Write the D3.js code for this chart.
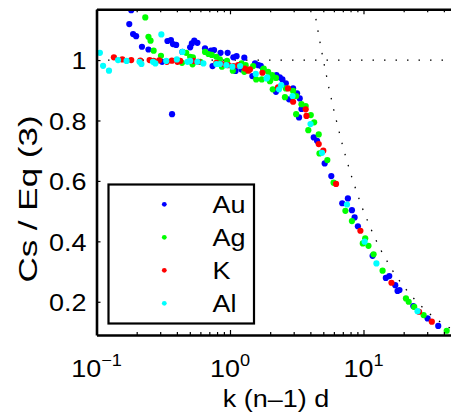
<!DOCTYPE html>
<html><head><meta charset="utf-8">
<script src="https://cdn.jsdelivr.net/npm/d3@7/dist/d3.min.js"></script>
<style>
html,body{margin:0;padding:0;background:#fff;}
svg{display:block;font-family:"Liberation Sans",Arial,Helvetica,sans-serif;}
</style></head>
<body><svg id="c" width="451" height="414"></svg>
<script>
// ---- data ----
const seriesNames = ["Au","Ag","K","Al"];
const seriesColors = ["#0000ff","#00ff00","#ff0000","#00ffff"];
const au = [[0.182,1.165],[0.176,1.119],[0.188,1.086],[0.198,1.079],[0.219,1.044],[0.245,1.035],[0.31,0.994],[0.34,1.063],[0.361,1.066],[0.374,1.053],[0.395,1.05],[0.368,0.821],[0.44,1.027],[0.503,1.042],[0.518,1.055],[0.54,1.064],[0.57,1.057],[0.65,1.039],[0.72,1.031],[0.74,0.98],[0.76,1.033],[0.85,1.024],[0.96,1.024],[1.06,1.009],[1.1,0.964],[1.12,1.013],[1.22,0.969],[1.28,1.008],[1.47,0.947],[1.54,0.989],[1.63,0.983],[1.70,0.981],[2.23,0.95],[2.21,0.895],[2.36,0.943],[2.47,0.936],[2.62,0.923],[2.77,0.87],[2.97,0.906],[3.18,0.89],[3.33,0.873],[3.43,0.838],[3.29,0.81],[4.24,0.744],[4.49,0.733],[5.12,0.658],[5.74,0.616],[6.93,0.526],[7.64,0.542],[8.19,0.503],[8.58,0.479],[9.08,0.45],[11.7,0.352],[14.7,0.279],[15.6,0.285],[17.3,0.255],[18.0,0.236],[18.6,0.239],[23.6,0.186],[30.2,0.145],[36.3,0.12]];
const ag = [[0.232,1.141],[0.245,1.077],[0.254,1.064],[0.268,1.031],[0.304,1.014],[0.437,0.991],[0.47,1.024],[0.503,1.011],[0.524,0.986],[0.527,1.009],[0.6,0.994],[0.65,1.027],[0.69,1.02],[0.73,1.017],[0.79,1.011],[0.84,1.002],[0.87,0.978],[0.95,0.997],[1.05,0.965],[1.22,0.989],[1.28,0.961],[1.31,0.983],[1.49,0.98],[1.57,0.936],[1.73,0.936],[1.77,0.969],[1.79,0.972],[1.93,0.961],[1.99,0.93],[2.01,0.934],[2.07,0.95],[2.09,0.903],[2.21,0.941],[2.58,0.877],[2.62,0.906],[2.97,0.898],[3.13,0.881],[3.13,0.821],[3.43,0.854],[3.69,0.848],[3.86,0.768],[4.03,0.818],[4.27,0.794],[4.62,0.754],[4.68,0.691],[5.36,0.669],[5.97,0.594],[7.32,0.501],[8.19,0.467],[9.88,0.393],[10.3,0.41],[10.9,0.385],[11.9,0.357],[13.9,0.303],[20.8,0.211],[21.8,0.2],[24.0,0.183],[28.2,0.156],[42.0,0.104]];
const k = [[0.135,1.009],[0.156,1.002],[0.182,1.0],[0.213,0.998],[0.25,1.0],[0.268,0.997],[0.295,0.999],[0.337,0.994],[0.367,0.998],[0.404,0.994],[0.424,0.997],[0.532,0.997],[0.58,0.994],[0.79,0.991],[0.87,0.987],[0.97,0.983],[1.06,0.98],[1.15,0.983],[1.29,0.972],[1.37,0.965],[1.41,0.969],[1.75,0.958],[2.29,0.91],[2.72,0.906],[2.97,0.862],[3.69,0.837],[3.74,0.815],[4.62,0.722],[5.0,0.7],[6.23,0.59],[9.48,0.435],[16.2,0.263],[26.1,0.167],[32.5,0.134]];
const al = [[0.106,1.024],[0.112,0.981],[0.124,0.965],[0.145,1.0],[0.168,0.997],[0.21,0.994],[0.217,0.987],[0.265,0.994],[0.276,0.989],[0.306,1.085],[0.333,0.997],[0.4,1.002],[0.44,1.027],[0.48,0.994],[0.503,0.997],[0.57,0.994],[0.632,0.989],[0.79,0.987],[0.84,0.987],[0.94,0.983],[1.04,0.978],[1.19,0.98],[1.56,0.954],[1.88,0.939],[1.9,0.943],[2.33,0.903],[2.42,0.917],[2.94,0.881],[4.01,0.788],[4.89,0.693],[7.52,0.522],[10.2,0.399],[12.5,0.327],[25.4,0.169]];
const refFlat = [[0.1,1],[50,1]];
const refCurve = [[4.4,1.136],[4.7,1.064],[5,1.0],[5.5,0.909],[6,0.833],[7,0.714],[8,0.625],[9,0.556],[10,0.5],[12,0.417],[14,0.357],[17,0.294],[20,0.25],[25,0.2],[30,0.167],[35,0.143],[40,0.125],[46,0.109],[50,0.1]];
const xMajor = [0.1,1,10];
const xExp = ["\u22121","0","1"];
const xMinor = [0.2,0.3,0.4,0.5,0.6,0.7,0.8,0.9,2,3,4,5,6,7,8,9,20,30,40];
const yTicks = [0.2,0.4,0.6,0.8,1];
const yTickLabels = ["0.2","0.4","0.6","0.8","1"];

// ---- layout ----
const svg = d3.select("#c");
const x = d3.scaleLog().domain([0.1,50]).range([96.5,456.8]);
const y = d3.scaleLinear().domain([0.09,1.168]).range([335,9.3]);
const FS = 24.5, SX = 1.1;

svg.append("defs").append("clipPath").attr("id","clip")
  .append("rect").attr("x",x(0.1)).attr("y",y(1.168)).attr("width",x(50)-x(0.1)).attr("height",y(0.09)-y(1.168));

const line = d3.line().x(d=>x(d[0])).y(d=>y(d[1]));
const pg = svg.append("g").attr("clip-path","url(#clip)");
[refFlat, refCurve].forEach(r=>{
  pg.append("path").attr("d",line(r)).attr("fill","none").attr("stroke","#000")
    .attr("stroke-width",1.3).attr("stroke-dasharray","1.5,10");
});
const all = [au,ag,k,al];
all.forEach((s,i)=>{
  pg.append("g").selectAll("circle").data(s).join("circle")
    .attr("cx",d=>x(d[0])).attr("cy",d=>y(d[1])).attr("r",3.1)
    .attr("fill",seriesColors[i]);
});

// axes
function styleAxis(g, w){
  g.select(".domain").attr("stroke","#000").attr("stroke-width",w);
  g.selectAll(".tick line").attr("stroke","#000").attr("stroke-width",1.2);
}
const gb = svg.append("g").attr("transform",`translate(0,${y(0.09)})`)
  .call(d3.axisBottom(x).tickValues(xMajor).tickSizeInner(-5).tickSizeOuter(0).tickFormat(""));
styleAxis(gb,2.6);
const gbm = svg.append("g").attr("transform",`translate(0,${y(0.09)})`)
  .call(d3.axisBottom(x).tickValues(xMinor).tickSizeInner(-3).tickSizeOuter(0).tickFormat(""));
gbm.select(".domain").remove(); gbm.selectAll(".tick line").attr("stroke","#000").attr("stroke-width",1.2);
const gt = svg.append("g").attr("transform",`translate(0,${y(1.168)})`)
  .call(d3.axisTop(x).tickValues(xMajor).tickSizeInner(-5).tickSizeOuter(0).tickFormat(""));
styleAxis(gt,2.6);
const gtm = svg.append("g").attr("transform",`translate(0,${y(1.168)})`)
  .call(d3.axisTop(x).tickValues(xMinor).tickSizeInner(-3).tickSizeOuter(0).tickFormat(""));
gtm.select(".domain").remove(); gtm.selectAll(".tick line").attr("stroke","#000").attr("stroke-width",1.2);
const gl = svg.append("g").attr("transform",`translate(${x(0.1)},0)`)
  .call(d3.axisLeft(y).tickValues(yTicks).tickSizeInner(-4).tickSizeOuter(0)
    .tickFormat((d,i)=>yTickLabels[i]).tickPadding(10));
styleAxis(gl,2.6);
gl.selectAll(".tick text").attr("font-size",FS).attr("fill","#000")
  .attr("font-family","Liberation Sans, Arial, sans-serif")
  .attr("transform",`scale(${SX},1)`).attr("x",-10/SX).attr("dy","0.36em");

// x tick labels with superscripts
xMajor.forEach((v,i)=>{
  const t = svg.append("text").attr("transform",`translate(${x(v)},377) scale(${SX},1)`)
    .attr("text-anchor","middle").attr("font-size",FS).attr("fill","#000");
  t.append("tspan").text("10");
  t.append("tspan").attr("dy",-11).attr("font-size",16.5).text(xExp[i]);
});

// axis titles
svg.append("text").attr("transform",`translate(276,407) scale(${SX},1)`).attr("text-anchor","middle")
  .attr("font-size",FS).attr("fill","#000").text("k (n\u20131) d");
svg.append("text").attr("transform",`translate(36.5,199) rotate(-90) scale(1.4,1)`).attr("text-anchor","middle")
  .attr("font-size",25).attr("fill","#000").text("Cs / Eq (3)");

// legend
const lg = svg.append("g");
lg.append("rect").attr("x",108.5).attr("y",184.5).attr("width",145.5).attr("height",139)
  .attr("fill","#fff").attr("stroke","#000").attr("stroke-width",2.2);
seriesNames.forEach((n,i)=>{
  const yy = 204.3 + i*33;
  lg.append("circle").attr("cx",164.3).attr("cy",yy).attr("r",2.4).attr("fill",seriesColors[i]);
  lg.append("text").attr("transform",`translate(212.5,${yy+8.5}) scale(${SX},1)`)
    .attr("font-size",FS).attr("fill","#000").text(n);
});
</script></body></html>
